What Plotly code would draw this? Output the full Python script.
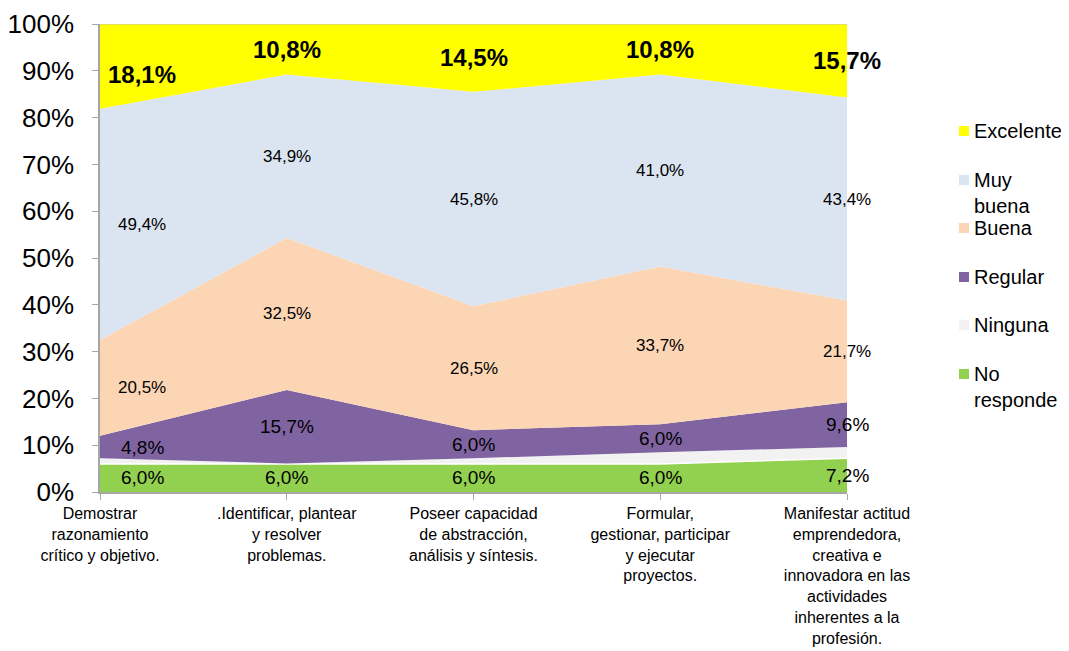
import plotly.graph_objects as go

categorias = [
    "Demostrar<br>razonamiento<br>crítico y objetivo.",
    ".Identificar, plantear<br>y resolver<br>problemas.",
    "Poseer capacidad<br>de abstracción,<br>análisis y síntesis.",
    "Formular,<br>gestionar, participar<br>y ejecutar<br>proyectos.",
    "Manifestar actitud<br>emprendedora,<br>creativa e<br>innovadora en las<br>actividades<br>inherentes a la<br>profesión.",
]

# valores en %, de abajo hacia arriba
no_responde = [6.0, 6.0, 6.0, 6.0, 7.2]
ninguna = [1.2, 0.1, 1.2, 2.5, 2.4]
regular = [4.8, 15.7, 6.0, 6.0, 9.6]
buena = [20.5, 32.5, 26.5, 33.7, 21.7]
muy_buena = [49.4, 34.9, 45.8, 41.0, 43.4]
excelente = [18.1, 10.8, 14.5, 10.8, 15.7]

series = [
    ("No responde", "No<br>responde", no_responde, "#92D050", True, 19, False),
    ("Ninguna", "Ninguna", ninguna, "#F2F2F2", False, 19, False),
    ("Regular", "Regular", regular, "#8064A2", True, 19, False),
    ("Buena", "Buena", buena, "#FCD5B5", True, 17, False),
    ("Muy buena", "Muy<br>buena", muy_buena, "#DBE5F1", True, 17, False),
    ("Excelente", "Excelente", excelente, "#FFFF00", True, 24, True),
]

FONT = "Liberation Sans, Arial, sans-serif"
x = list(range(len(categorias)))

fig = go.Figure()
annotations = []
shapes = []
base = [0.0] * len(x)
for nombre, leyenda, vals, color, etiqueta, fsize, negrita in series:
    # lineas: blanca sobre el verde, gris en el borde superior
    if nombre == "No responde":
        lcol, lw = "white", 1.5
    elif nombre == "Excelente":
        lcol, lw = "#BFBFBF", 1
    else:
        lcol, lw = color, 0
    fig.add_trace(go.Scatter(
        x=x, y=vals, name=nombre, mode="lines", stackgroup="one",
        fillcolor=color, line=dict(color=lcol, width=lw),
        showlegend=False, hoverinfo="skip",
    ))
    if etiqueta:
        for i, v in enumerate(vals):
            txt = f"{v:.1f}%".replace(".", ",")
            if negrita:
                txt = f"<b>{txt}</b>"
            annotations.append(dict(
                x=i, y=base[i] + v / 2, xref="x", yref="y", text=txt,
                showarrow=False, xshift=42 if i == 0 else 0,
                yshift=-8 if (negrita and i == 0) else 0,
                font=dict(family=FONT, size=fsize, color="black"),
            ))
    base = [b + v for b, v in zip(base, vals)]

# leyenda manual (orden invertido, como en el original)
ley_y = [131, 180, 228, 277, 325, 374]
for (nombre, leyenda, vals, color, *_), yy in zip(reversed(series), ley_y):
    shapes.append(dict(type="rect", xref="paper", yref="paper",
                       x0=(959 - 100) / 747, x1=(969 - 100) / 747,
                       y0=(492 - yy - 5) / 468, y1=(492 - yy + 5) / 468,
                       fillcolor=color, line=dict(width=0)))
    annotations.append(dict(
        x=(972 - 100) / 747, y=(492 - yy + 13) / 468, xref="paper", yref="paper",
        xanchor="left", yanchor="top", align="left", text=leyenda, showarrow=False,
        font=dict(family=FONT, size=20, color="black"),
    ))

# la pagina tiene 8 px de margen, por eso el lienzo es 1061x643
fig.update_layout(
    width=1061, height=643,
    margin=dict(l=92, r=222, t=16, b=159, autoexpand=False),
    paper_bgcolor="white", plot_bgcolor="white",
    showlegend=False,
    annotations=annotations, shapes=shapes,
    font=dict(family=FONT, color="black"),
)
fig.update_xaxes(
    range=[0, 4], tickvals=x, ticktext=categorias, tickangle=0,
    showline=True, linecolor="#A6A6A6", linewidth=1.5,
    ticks="outside", tickcolor="#A6A6A6", ticklen=6,
    showgrid=False, zeroline=False,
    tickfont=dict(family=FONT, size=16, color="black"),
)
fig.update_yaxes(
    range=[0, 100], tickvals=list(range(0, 101, 10)),
    ticktext=[f"{v}%" for v in range(0, 101, 10)],
    showline=True, linecolor="#A6A6A6", linewidth=1.5,
    ticks="outside", tickcolor="#A6A6A6", ticklen=6,
    ticklabelstandoff=13,
    showgrid=False, zeroline=False,
    tickfont=dict(family=FONT, size=26, color="black"),
)

fig.write_html("out.html")
